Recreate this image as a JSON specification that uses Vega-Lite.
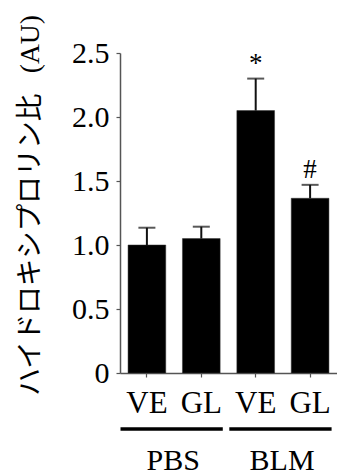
{
  "$schema": "https://vega.github.io/schema/vega-lite/v6.json",
  "width": 217,
  "height": 320,
  "autosize": {"type": "none"},
  "padding": {"left": 120, "top": 53, "right": 0, "bottom": 103},
  "background": "white",
  "config": {"view": {"stroke": null}, "font": "Liberation Serif"},
  "datasets": {
    "bars": [
      {"cond": "PBS|VE", "value": 1.0, "upper": 1.135, "sig": ""},
      {"cond": "PBS|GL", "value": 1.05, "upper": 1.143, "sig": ""},
      {"cond": "BLM|VE", "value": 2.05, "upper": 2.3, "sig": "*"},
      {"cond": "BLM|GL", "value": 1.365, "upper": 1.47, "sig": "#"}
    ],
    "groups": [
      {"group": "PBS", "first": "PBS|VE", "last": "PBS|GL"},
      {"group": "BLM", "first": "BLM|VE", "last": "BLM|GL"}
    ]
  },
  "layer": [
    {
      "data": {"name": "bars"},
      "mark": {"type": "bar", "color": "black", "stroke": "#333", "strokeWidth": 0.5},
      "encoding": {
        "x": {
          "field": "cond", "type": "nominal",
          "scale": {"domain": ["PBS|VE", "PBS|GL", "BLM|VE", "BLM|GL"], "paddingInner": 0.307, "paddingOuter": 0.148},
          "axis": {
            "title": null, "labelAngle": 0,
            "labelExpr": "split(datum.label, '|')[1]",
            "labelFont": "Liberation Serif", "labelFontSize": 31, "labelColor": "black",
            "labelPadding": 11, "tickSize": 4, "tickColor": "#555", "tickWidth": 1.2,
            "domainColor": "#555", "domainWidth": 1.5
          }
        },
        "y": {
          "field": "value", "type": "quantitative",
          "scale": {"domain": [0, 2.5], "nice": false},
          "axis": {
            "title": "ハイドロキシプロリン比\u2002 (AU)",
            "titleFont": "Liberation Serif, Noto Sans CJK JP", "titleFontSize": 27.5,
            "titleFontWeight": "normal", "titleColor": "black", "titlePadding": 27,
            "titleY": 152,
            "values": [0, 0.5, 1, 1.5, 2, 2.5],
            "labelExpr": "datum.value == 0 ? '0' : format(datum.value, '.1f')",
            "labelFont": "Liberation Serif", "labelFontSize": 30, "labelColor": "black",
            "labelPadding": 7, "tickSize": 4, "tickColor": "#555", "tickWidth": 1.2,
            "domainColor": "#555", "domainWidth": 1.5, "grid": false
          }
        }
      }
    },
    {
      "data": {"name": "bars"},
      "mark": {"type": "rule", "color": "#111", "strokeWidth": 2},
      "encoding": {
        "x": {"field": "cond", "type": "nominal"},
        "y": {"field": "value", "type": "quantitative"},
        "y2": {"field": "upper"}
      }
    },
    {
      "data": {"name": "bars"},
      "mark": {"type": "tick", "color": "#111", "thickness": 2, "size": 17},
      "encoding": {
        "x": {"field": "cond", "type": "nominal"},
        "y": {"field": "upper", "type": "quantitative"}
      }
    },
    {
      "data": {"name": "bars"},
      "mark": {"type": "text", "font": "Liberation Serif", "fontSize": 27, "baseline": "alphabetic", "dy": -7, "color": "black"},
      "encoding": {
        "x": {"field": "cond", "type": "nominal"},
        "y": {"field": "upper", "type": "quantitative"},
        "text": {"field": "sig"}
      }
    },
    {
      "data": {"name": "groups"},
      "mark": {"type": "rule", "color": "black", "strokeWidth": 3.5},
      "encoding": {
        "x": {"field": "first", "type": "nominal", "bandPosition": -0.2},
        "x2": {"field": "last", "bandPosition": 1.07},
        "y": {"datum": -0.4375}
      }
    },
    {
      "data": {"name": "groups"},
      "mark": {"type": "text", "font": "Liberation Serif", "fontSize": 30, "baseline": "alphabetic", "align": "center", "color": "black"},
      "encoding": {
        "x": {"field": "first", "type": "nominal", "bandPosition": 1.2},
        "y": {"datum": -0.758},
        "text": {"field": "group"}
      }
    }
  ]
}
